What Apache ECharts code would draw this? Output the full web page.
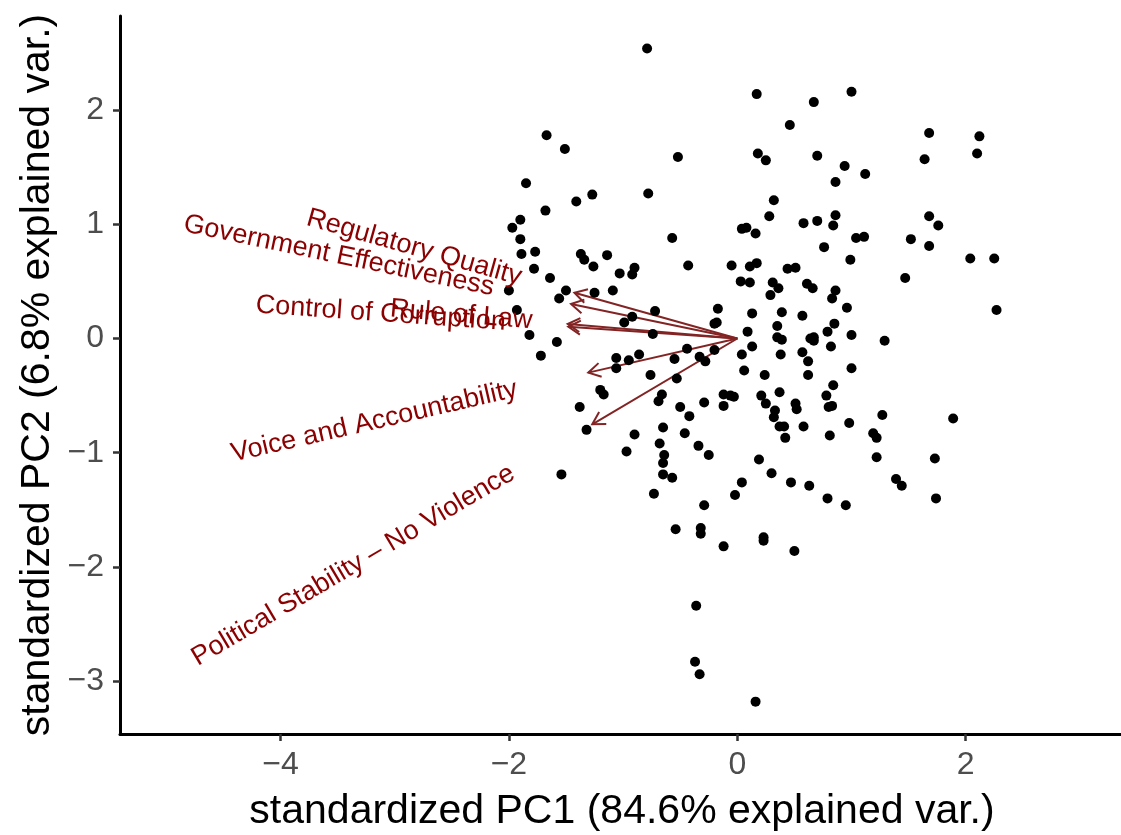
<!DOCTYPE html>
<html><head><meta charset="utf-8">
<script src="https://cdn.jsdelivr.net/npm/echarts@6/dist/echarts.min.js"></script>
<style>html,body{margin:0;padding:0;background:#fff}#c{width:1121px;height:835px}</style>
</head><body><div id="c"></div>
<script>
// Observation scores (standardized PC1, PC2)
const pc1 = [-0.79,0.17,-1.67,-1.51,-0.52,0.18,-1.85,-1.27,-1.41,-0.78,
-1.68,-1.90,-1.97,-1.90,-0.57,0.04,0.08,0.16,-1.89,-1.77,
-1.37,-1.34,-1.14,-1.26,-1.78,-1.64,-1.03,-0.90,-0.92,-0.43,
-0.05,0.11,0.17,0.67,1.00,0.46,1.68,2.12,0.25,0.70,
0.94,1.12,0.86,1.64,2.10,0.32,0.28,0.58,0.70,0.86,
0.84,0.76,1.04,1.11,0.99,1.68,1.76,1.52,1.68,1.47,
2.04,2.25,2.27,0.44,0.51,0.03,0.11,0.31,0.36,0.29,
0.61,0.66,0.86,0.83,0.96,0.13,0.39,0.57,-2.00,-1.50,
-1.56,-1.25,-1.09,-1.93,-1.82,-1.58,-1.72,-0.72,-0.99,-0.92,
-0.74,-0.17,-0.20,-0.18,0.09,-0.44,-0.20,-0.33,-0.28,-0.55,
-0.86,-0.95,-1.06,-1.06,-0.76,-0.53,0.04,0.06,0.13,-1.20,
-1.17,-1.38,-0.66,-0.69,-0.50,-0.42,-0.29,-0.12,-0.06,-0.03,
-0.12,-1.32,-0.65,-0.90,-0.46,-0.68,-0.34,-0.25,-0.97,-0.64,
-0.65,-0.65,-0.57,-1.54,-0.73,-0.29,0.04,-0.02,0.35,0.79,
0.85,0.35,0.39,0.64,0.67,0.67,1.00,1.29,0.38,0.57,
0.62,0.82,1.00,0.24,0.62,0.84,0.78,0.37,0.21,0.25,
0.51,0.52,0.33,0.32,0.80,0.83,1.27,0.98,0.37,0.41,
0.58,0.42,0.81,1.19,1.22,1.89,1.22,1.73,0.19,0.30,
0.47,0.63,1.39,1.44,1.74,0.79,0.95,0.23,0.23,0.50,
-0.54,-0.32,-0.32,-0.12,-0.36,-0.37,-0.33,0.16];
const pc2 = [2.54,2.14,1.78,1.66,1.59,1.62,1.36,1.26,1.20,1.27,
1.12,1.04,0.97,0.87,0.88,0.96,0.97,0.92,0.74,0.76,
0.74,0.69,0.73,0.63,0.61,0.53,0.57,0.62,0.56,0.64,
0.64,0.63,0.66,2.07,2.16,1.87,1.80,1.77,1.56,1.60,
1.51,1.44,1.37,1.57,1.62,1.21,1.07,1.01,1.03,1.08,
0.99,0.80,0.88,0.89,0.69,1.07,0.99,0.87,0.81,0.53,
0.70,0.70,0.25,0.61,0.62,0.50,0.49,0.49,0.44,0.38,
0.48,0.44,0.42,0.35,0.27,0.22,0.23,0.20,0.42,0.42,
0.35,0.40,0.42,0.25,0.03,-0.03,-0.15,0.24,0.14,0.19,
0.04,0.26,0.13,0.14,0.06,-0.09,-0.10,-0.16,-0.20,-0.18,
-0.14,-0.19,-0.17,-0.26,-0.32,-0.35,-0.14,-0.28,-0.07,-0.45,
-0.49,-0.60,-0.49,-0.55,-0.60,-0.68,-0.56,-0.49,-0.50,-0.51,
-0.59,-0.80,-0.78,-0.84,-0.83,-0.92,-0.94,-1.02,-0.99,-1.02,
-1.09,-1.19,-1.22,-1.19,-1.36,-1.46,-1.26,-1.37,0.11,0.06,
0.13,0.01,-0.01,0.00,0.01,-0.02,0.03,-0.02,-0.14,-0.12,
-0.20,-0.07,-0.26,-0.32,-0.32,-0.41,-0.50,-0.47,-0.50,-0.57,
-0.57,-0.62,-0.63,-0.69,-0.60,-0.59,-0.67,-0.74,-0.77,-0.77,
-0.77,-0.87,-0.85,-0.83,-0.87,-0.70,-1.04,-1.05,-1.06,-1.18,
-1.26,-1.29,-1.23,-1.29,-1.40,-1.40,-1.46,-1.74,-1.77,-1.86,
-1.67,-1.66,-1.71,-1.82,-2.34,-2.83,-2.94,-3.18];

// Variable loadings (arrow tips)
const varNames = ['Regulatory Quality','Government Effectiveness','Rule of Law','Control of Corruption','Voice and Accountability','Political Stability \u2013 No Violence'];
const varPC1 = [-1.426,-1.456,-1.485,-1.480,-1.305,-1.270];
const varPC2 = [0.401,0.302,0.127,0.103,-0.299,-0.751];

const xTicks = [-4,-2,0,2];
const yTicks = [-3,-2,-1,0,1,2];
const xTitle = 'standardized PC1 (84.6% explained var.)';
const yTitle = 'standardized PC2 (6.8% explained var.)';

const FONT = '"Liberation Sans", Arial, Helvetica, sans-serif';
const arrowColor = '#832424';
const textColor = '#8B0000';
const labelFontSize = 27;

const mctx = document.createElement('canvas').getContext('2d');
mctx.font = labelFontSize + 'px ' + FONT;
function textWidth(s){ return mctx.measureText(s).width; }

const fmt = v => String(v).replace('-', '\u2212');

const chart = echarts.init(document.getElementById('c'), null, {renderer:'canvas'});
const varData = varPC1.map((v,i)=>[v, varPC2[i], i]);

const option = {
  animation: false,
  backgroundColor: '#fff',
  grid: {left:120, right:0, top:16, bottom:101, outerBoundsMode:'none'},
  xAxis: {
    type:'value', min:-5.4054, max:3.3599,
    axisLine:{show:true, onZero:false, lineStyle:{color:'#000', width:3}},
    axisTick:{show:true, length:7, customValues:xTicks, lineStyle:{color:'#333', width:2.5}},
    axisLabel:{customValues:xTicks, formatter:fmt, fontSize:32, color:'#4D4D4D', fontFamily:FONT, margin:15},
    splitLine:{show:false}
  },
  yAxis: {
    type:'value', min:-3.4632, max:2.8240,
    axisLine:{show:true, onZero:false, lineStyle:{color:'#000', width:3}},
    axisTick:{show:true, length:7, customValues:yTicks, lineStyle:{color:'#333', width:2.5}},
    axisLabel:{customValues:yTicks, formatter:fmt, fontSize:32, color:'#4D4D4D', fontFamily:FONT, margin:16},
    splitLine:{show:false}
  },
  graphic: [
    {type:'text', x:622, y:812, z:10, style:{text:xTitle, fill:'#000', font:'41px ' + FONT, align:'center', verticalAlign:'middle'}},
    {type:'text', x:38, y:375, rotation:Math.PI/2, z:10, style:{text:yTitle, fill:'#000', font:'41px ' + FONT, align:'center', verticalAlign:'middle'}}
  ],
  series: [
    {
      type:'custom', z:2, data:varData, encode:{x:0, y:1},
      renderItem: function(params, api){
        const o = api.coord([0,0]);
        const t = api.coord([api.value(0), api.value(1)]);
        const ang = Math.atan2(t[1]-o[1], t[0]-o[0]);
        const L = 14, a = Math.PI/6;
        const p1 = [t[0]-L*Math.cos(ang-a), t[1]-L*Math.sin(ang-a)];
        const p2 = [t[0]-L*Math.cos(ang+a), t[1]-L*Math.sin(ang+a)];
        return {type:'group', children:[
          {type:'line', shape:{x1:o[0], y1:o[1], x2:t[0], y2:t[1]}, style:{stroke:arrowColor, lineWidth:2}},
          {type:'polyline', shape:{points:[p1, t, p2]}, style:{stroke:arrowColor, lineWidth:2, fill:null}}
        ]};
      }
    },
    {
      type:'scatter', z:3, symbolSize:10, itemStyle:{color:'#000', opacity:1},
      data: pc1.map((v,i)=>[v, pc2[i]])
    },
    {
      type:'custom', z:4, data:varData, encode:{x:0, y:1},
      renderItem: function(params, api){
        const x = api.value(0), y = api.value(1), i = api.value(2);
        const t = api.coord([x, y]);
        const theta = Math.atan(y / x);
        const s = 0.25 * textWidth(varNames[i]);
        const ex = t[0] - s*Math.cos(theta), ey = t[1] + s*Math.sin(theta);
        return {type:'text', x:ex, y:ey, rotation:theta,
          style:{text:varNames[i], fill:textColor, font:labelFontSize + 'px ' + FONT, align:'right', verticalAlign:'middle'}};
      }
    }
  ]
};
chart.setOption(option);
</script>
</body></html>
